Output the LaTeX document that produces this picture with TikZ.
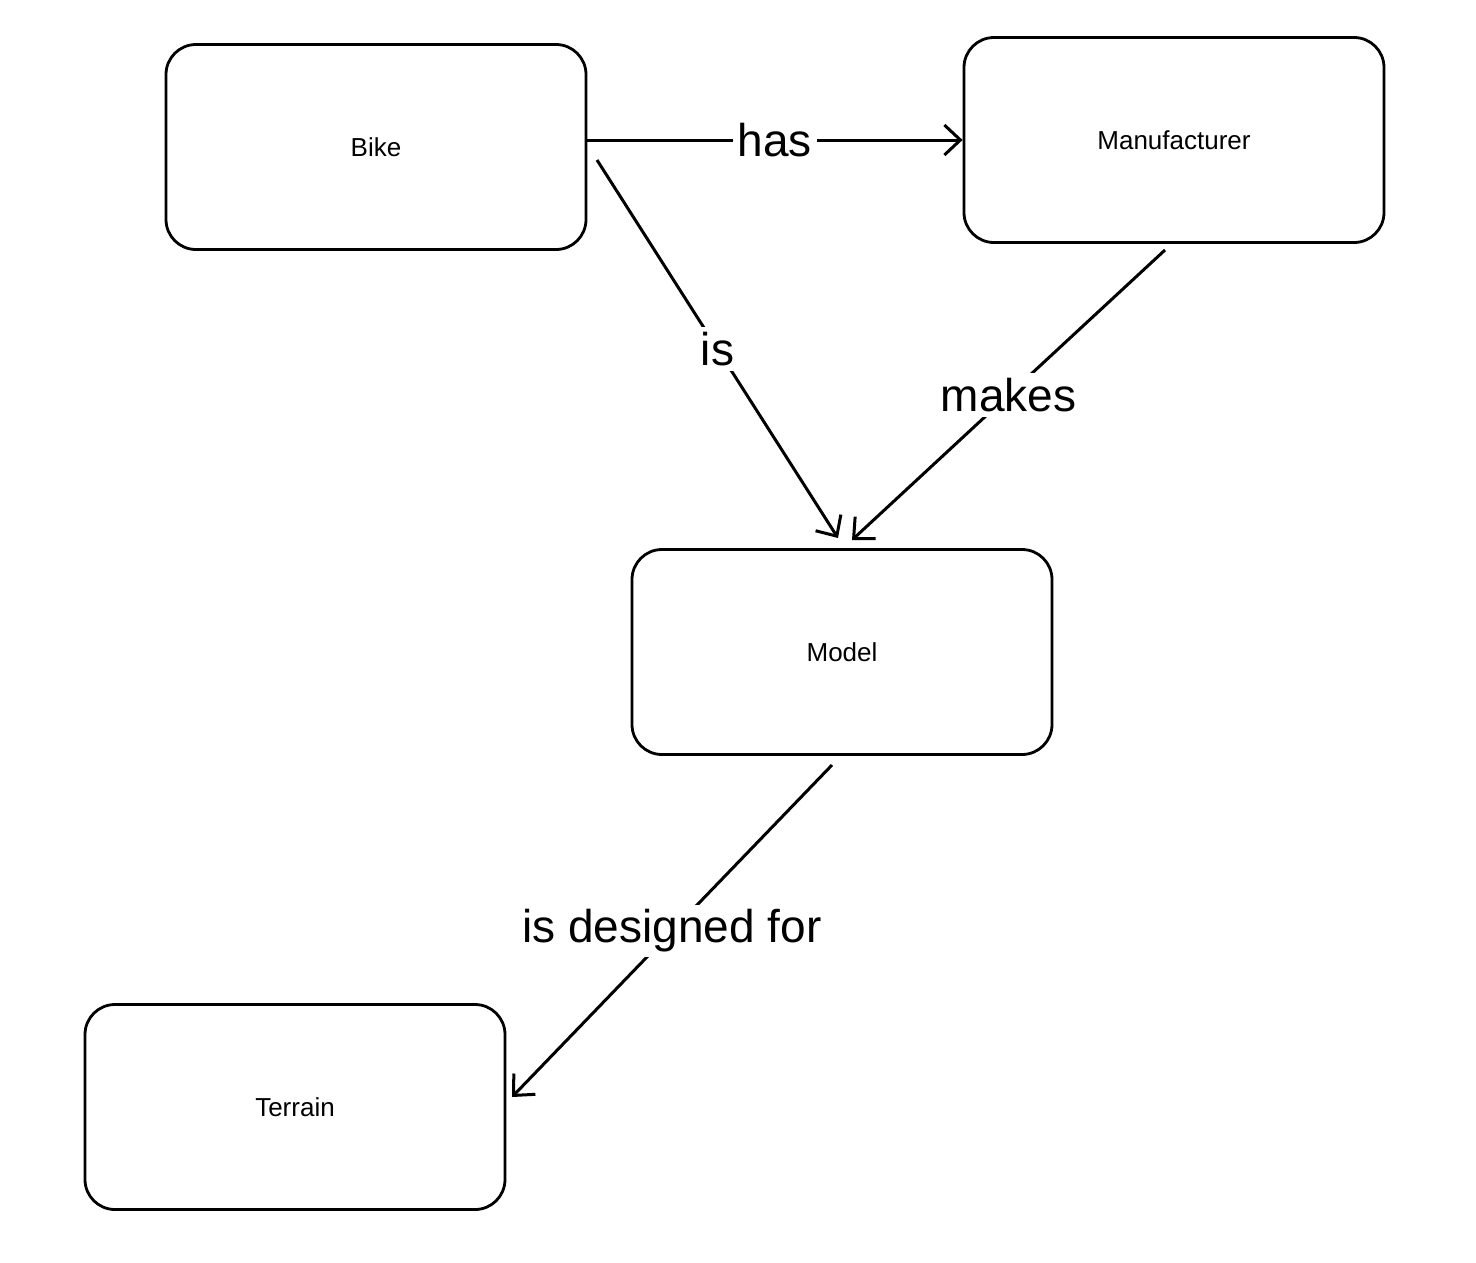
\documentclass[tikz,border=0pt]{standalone}
\usepackage{fontspec}
\setmainfont{Liberation Sans}
\usetikzlibrary{arrows.meta}
\begin{document}
\begin{tikzpicture}[x=1pt,y=-1pt,
  box/.style={draw,line width=2.8pt,rounded corners=30pt,minimum width=420pt,minimum height=205pt,font=\fontsize{26}{30}\selectfont},
  con/.style={line width=3pt,-{Straight Barb[length=16pt,width=30pt,line width=3pt]}},
  lab/.style={fill=white,font=\fontsize{46}{52}\selectfont,inner sep=5pt}]
\useasboundingbox (0,0) rectangle (1476,1262);
\node[box] (bike) at (376,147) {Bike};
\node[box] (man) at (1174,140) {Manufacturer};
\node[box] (model) at (842,652) {Model};
\node[box] (ter) at (295,1107) {Terrain};
\coordinate (h1) at (587,140);
\coordinate (b1) at (597,160);
\coordinate (b2) at (838,538);
\coordinate (m1) at (1165,250);
\coordinate (m2) at (852,540);
\coordinate (d1) at (832,765);
\coordinate (d2) at (512,1097);
\draw[con] (h1) -- node[lab]{has} (man.west);
\draw[con] (b1) -- node[lab,pos=0.5]{is} (b2);
\draw[con] (m1) -- node[lab,pos=0.5]{makes} (m2);
\draw[con] (d1) -- node[lab,pos=0.5]{is designed for} (d2);
\end{tikzpicture}
\end{document}
